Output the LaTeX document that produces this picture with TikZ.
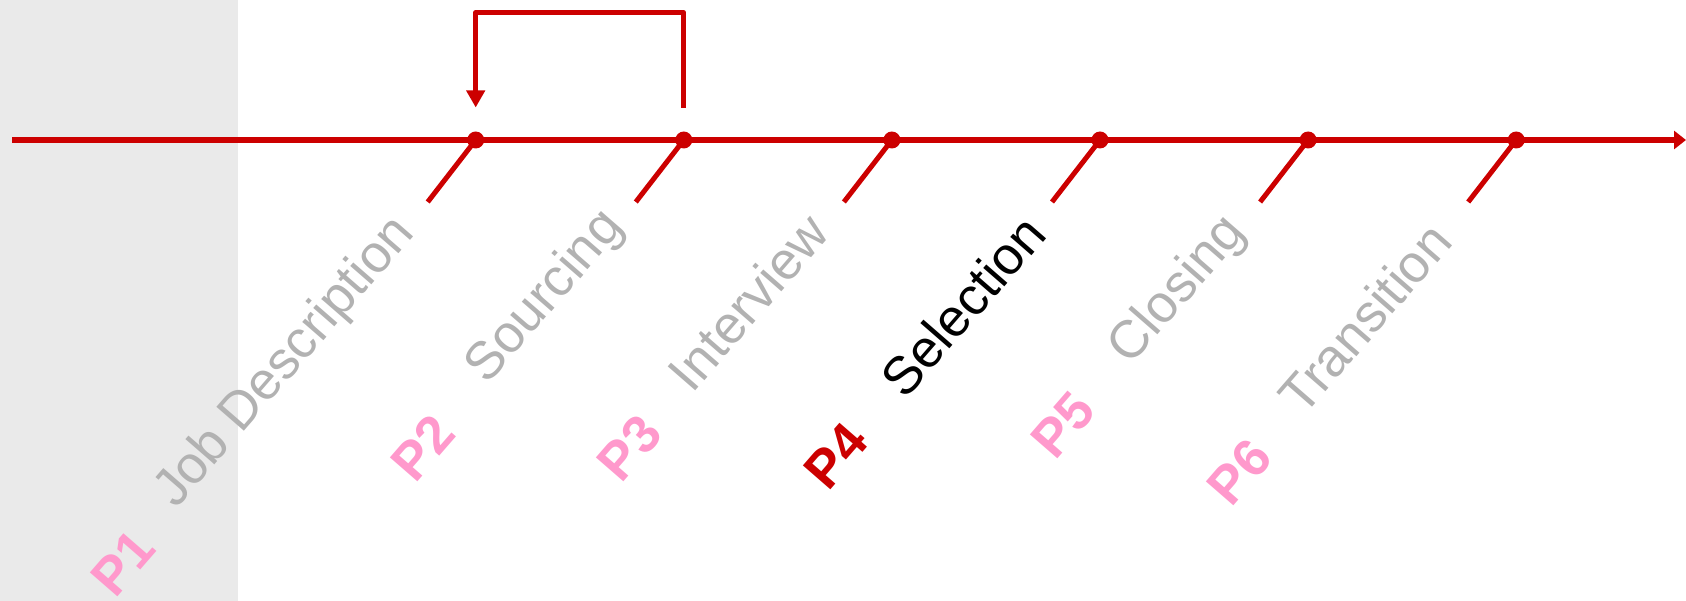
\documentclass[tikz,border=0pt]{standalone}
\usepackage{fontspec}
\setmainfont{Liberation Sans}
\usetikzlibrary{arrows.meta}

\definecolor{tlred}{RGB}{204,0,0}
\definecolor{phasepink}{RGB}{255,153,204}
\definecolor{labelgray}{RGB}{178,178,178}
\definecolor{panelgray}{RGB}{234,234,234}

\tikzset{
  axisline/.style={draw=tlred, line width=5.5pt, -{Triangle[length=12pt,width=18pt]}},
  tickline/.style={draw=tlred, line width=5pt},
  loopline/.style={draw=tlred, line width=5pt, line join=round, -{Triangle[length=17pt,width=18pt]}},
  dot/.style={circle, fill=tlred, inner sep=0pt, minimum size=17pt},
  stage/.style={font=\fontsize{53}{60}\selectfont, text=labelgray, rotate=49, anchor=base west, inner sep=0pt},
  phase/.style={font=\bfseries\fontsize{53}{60}\selectfont, text=phasepink, rotate=49, anchor=base west, inner sep=0pt}
}

\begin{document}
\begin{tikzpicture}[x=1pt,y=-1pt]
  \useasboundingbox (0,0) rectangle (1686,601);
  \fill[panelgray] (0,0) rectangle (238,601);

  % timeline axis
  \coordinate (axisstart) at (12,140);
  \coordinate (axisend) at (1686,140);
  \draw[axisline] (axisstart) -- (axisend);

  % milestones
  \node[dot] (d1) at (475.7,140) {};
  \node[dot] (d2) at (683.8,140) {};
  \node[dot] (d3) at (891.9,140) {};
  \node[dot] (d4) at (1100.0,140) {};
  \node[dot] (d5) at (1308.1,140) {};
  \node[dot] (d6) at (1516.2,140) {};

  % slanted ticks below each milestone
  \coordinate (t1) at (427.7,202);
  \coordinate (t2) at (635.8,202);
  \coordinate (t3) at (843.9,202);
  \coordinate (t4) at (1052.0,202);
  \coordinate (t5) at (1260.1,202);
  \coordinate (t6) at (1468.2,202);
  \foreach \i in {1,...,6} \draw[tickline] (d\i.center) -- (t\i);

  % loop back from sourcing to job description
  \coordinate (loopR) at (683.8,108);
  \coordinate (loopL) at (475.7,107.5);
  \draw[loopline] (loopR) -- ++(0,-95.5) -| (loopL);

  % stage names
  \node[stage] (s1) at (176.0,510.0) {Job Description};
  \node[stage] (s2) at (487.3,385.7) {Sourcing};
  \node[stage] (s3) at (692.5,394.5) {Interview};
  \node[stage, text=black] (s4) at (905.3,400.7) {Selection};
  \node[stage] (s5) at (1130.7,366.4) {Closing};
  \node[stage] (s6) at (1303.1,417.9) {Transition};

  % phase numbers
  \node[phase] (p1) at (115.3,599.5) {P1};
  \node[phase] (p2) at (415.2,484.6) {P2};
  \node[phase] (p3) at (621.8,484.5) {P3};
  \node[phase, text=tlred] (p4) at (828.2,492.4) {P4};
  \node[phase] (p5) at (1055.2,461.2) {P5};
  \node[phase] (p6) at (1231.7,508.4) {P6};
\end{tikzpicture}
\end{document}
